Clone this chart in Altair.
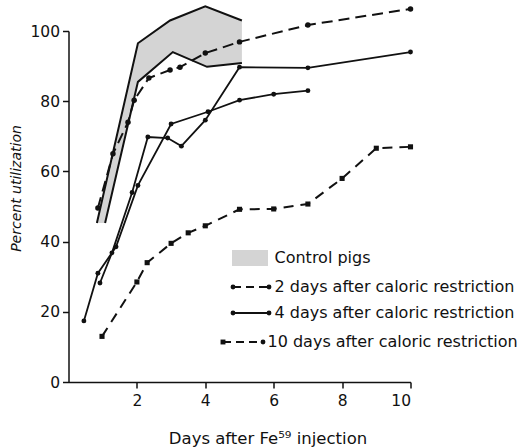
import altair as alt
import pandas as pd

# Control pigs: range of utilization, drawn as a shaded band
band_upper_x = [0.83, 2.03, 2.97, 4.0, 5.07]
band_upper_y = [45.3, 96.5, 103.0, 107.0, 103.0]
band_lower_x = [1.07, 2.03, 3.05, 4.05, 5.07]
band_lower_y = [45.3, 85.5, 94.0, 89.8, 90.9]

# 2 days after caloric restriction
d2_x = [0.86, 1.3, 1.74, 1.92, 2.35, 2.97, 3.26, 4.0, 5.0, 7.0, 10.0]
d2_y = [49.6, 65.0, 74.0, 80.3, 86.6, 88.9, 89.7, 93.7, 96.9, 101.7, 106.3]

# 4 days after caloric restriction (two animals)
d4a_x = [0.45, 0.86, 1.39, 2.03, 3.0, 4.08, 5.0, 6.0, 7.0]
d4a_y = [17.4, 31.0, 38.5, 56.0, 73.5, 77.0, 80.3, 82.0, 83.0]
d4b_x = [0.92, 1.27, 1.86, 2.32, 2.9, 3.3, 4.0, 5.0, 7.0, 10.0]
d4b_y = [28.2, 36.8, 54.0, 69.8, 69.5, 67.2, 74.6, 89.7, 89.5, 94.0]

# 10 days after caloric restriction
d10_x = [0.98, 2.0, 2.3, 3.0, 3.5, 4.0, 5.0, 6.0, 7.0, 8.0, 9.0, 10.0]
d10_y = [13.0, 28.5, 34.0, 39.5, 42.5, 44.5, 49.2, 49.3, 50.7, 58.0, 66.6, 67.0]

legend_labels = [
    "Control pigs",
    "2 days after caloric restriction",
    "4 days after caloric restriction",
    "10 days after caloric restriction",
]

FONT = "DejaVu Sans"
INK = "#111111"
STIPPLE = "#d4d4d4"

xscale = alt.Scale(domain=[0, 10], nice=False, zero=False)
yscale = alt.Scale(domain=[0, 100], nice=False, zero=False)


def frame(xs, ys):
    return pd.DataFrame({"x": xs, "y": ys, "i": list(range(len(xs)))})


def enc(chart):
    return chart.encode(
        x=alt.X("x:Q", scale=xscale),
        y=alt.Y("y:Q", scale=yscale),
        order="i:O",
    )


# closed outline of the control band
poly = frame(band_upper_x + band_lower_x[::-1], band_upper_y + band_lower_y[::-1])
band_fill = enc(alt.Chart(poly).mark_line(fill=STIPPLE, stroke="transparent", strokeWidth=0))
band_top = enc(alt.Chart(frame(band_upper_x, band_upper_y)).mark_line(color=INK, strokeWidth=2))
band_bot = enc(alt.Chart(frame(band_lower_x, band_lower_y)).mark_line(color=INK, strokeWidth=2))

DASH2 = [11, 6]
DASH10 = [10, 7]

s2_line = enc(alt.Chart(frame(d2_x, d2_y)).mark_line(color=INK, strokeWidth=2, strokeDash=DASH2))
s2_pts = enc(alt.Chart(frame(d2_x, d2_y)).mark_point(filled=True, color=INK, size=30, opacity=1))

s4a_line = enc(alt.Chart(frame(d4a_x, d4a_y)).mark_line(color=INK, strokeWidth=1.8))
s4a_pts = enc(alt.Chart(frame(d4a_x, d4a_y)).mark_point(filled=True, color=INK, size=24, opacity=1))
s4b_line = enc(alt.Chart(frame(d4b_x, d4b_y)).mark_line(color=INK, strokeWidth=1.8))
s4b_pts = enc(alt.Chart(frame(d4b_x, d4b_y)).mark_point(filled=True, color=INK, size=24, opacity=1))

s10_line = enc(alt.Chart(frame(d10_x, d10_y)).mark_line(color=INK, strokeWidth=2, strokeDash=DASH10))
s10_pts = enc(alt.Chart(frame(d10_x, d10_y)).mark_point(filled=True, color=INK, size=26, shape="square", opacity=1))

# axes carrier
axes = alt.Chart(frame([0, 10], [0, 100])).mark_point(opacity=0).encode(
    x=alt.X(
        "x:Q",
        scale=xscale,
        axis=alt.Axis(
            values=[2, 4, 6, 8, 10],
            title="Days after Fe\u2075\u2079 injection",
            titleFontWeight="normal",
            titleFontSize=16.5,
            titleX=199,
            titleY=56,
            titleBaseline="middle",
            labelPadding=5,
        ),
    ),
    y=alt.Y(
        "y:Q",
        scale=yscale,
        axis=alt.Axis(
            values=[0, 20, 40, 60, 80, 100],
            title="Percent utilization",
            titleFontStyle="italic",
            titleFontWeight="normal",
            titleFontSize=14,
            titleX=-52,
            titleY=157,
            titleAlign="center",
            titleBaseline="middle",
            titleAngle=-90,
            labelPadding=3,
        ),
    ),
)

one = pd.DataFrame({"k": [0]})
LX0, LX1 = 164.5, 200.5
TX = 206
rows_y = [227, 256, 282, 311]
LEG_FS = 16


def legend_text(label, y, x=TX):
    return alt.Chart(one).mark_text(
        align="left", baseline="middle", font=FONT, fontSize=LEG_FS, color=INK
    ).encode(x=alt.value(x), y=alt.value(y), text=alt.value(label))


def legend_rule(y, dash, x0, x1=LX1):
    kw = {"strokeDash": dash} if dash else {}
    return alt.Chart(one).mark_rule(color=INK, strokeWidth=2, **kw).encode(
        x=alt.value(x0), x2=alt.value(x1), y=alt.value(y)
    )


def legend_dot(x, y, shape="circle"):
    return alt.Chart(one).mark_point(filled=True, color=INK, size=24, shape=shape, opacity=1).encode(
        x=alt.value(x), y=alt.value(y)
    )


leg = [
    alt.Chart(one).mark_rect(color=STIPPLE).encode(
        x=alt.value(LX0 - 1), x2=alt.value(LX1 - 1), y=alt.value(rows_y[0] - 8), y2=alt.value(rows_y[0] + 8)
    ),
    legend_text(legend_labels[0], rows_y[0]),
    legend_rule(rows_y[1], [8, 5], LX0),
    legend_dot(LX0, rows_y[1]),
    legend_dot(LX1, rows_y[1]),
    legend_text(legend_labels[1], rows_y[1]),
    legend_rule(rows_y[2], None, LX0),
    legend_dot(LX0, rows_y[2]),
    legend_dot(LX1, rows_y[2]),
    legend_text(legend_labels[2], rows_y[2]),
    legend_rule(rows_y[3], [8, 5], LX0 - 10, LX1 - 6),
    legend_dot(LX0 - 10, rows_y[3], "square"),
    legend_dot(LX1 - 6, rows_y[3]),
    legend_text(legend_labels[3], rows_y[3], TX - 7),
]

chart = alt.layer(
    band_fill, band_top, band_bot,
    s10_line, s10_pts,
    s4a_line, s4a_pts, s4b_line, s4b_pts,
    s2_line, s2_pts,
    axes,
    *leg,
).properties(
    width=342,
    height=351,
    autosize=alt.AutoSizeParams(type="none"),
    padding={"left": 68.5, "top": 31, "right": 116.5, "bottom": 66},
    background="white",
).configure_view(stroke=None).configure_axis(
    grid=False,
    domainColor=INK,
    domainWidth=1.5,
    tickColor=INK,
    tickWidth=1.5,
    tickSize=6,
    labelColor=INK,
    titleColor=INK,
    labelFont=FONT,
    titleFont=FONT,
    labelFontSize=15.5,
)

chart.save("out.html", embed_options={"renderer": "svg", "actions": False})
